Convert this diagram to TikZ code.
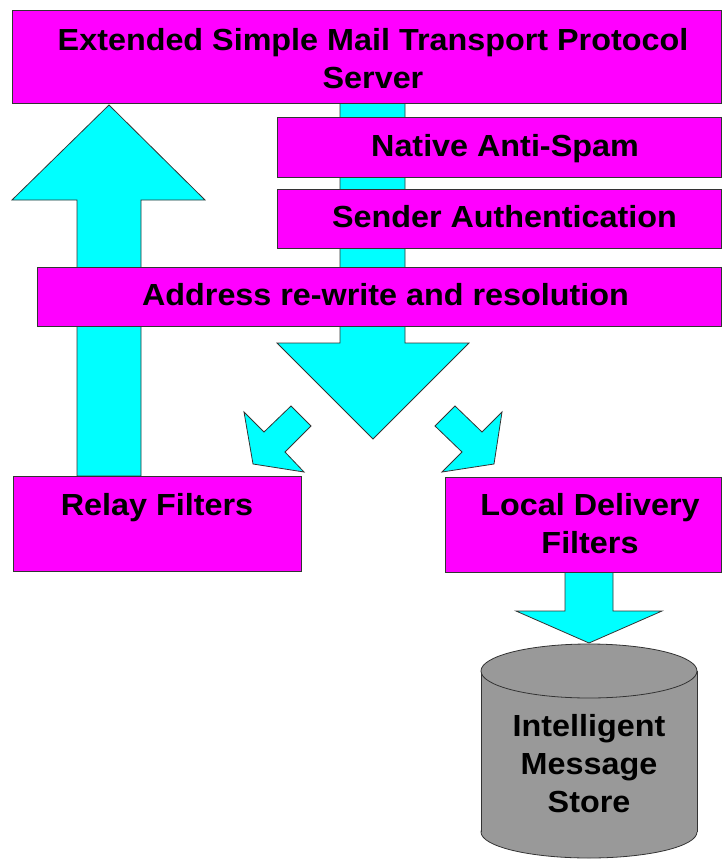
\documentclass[tikz,border=0pt]{standalone}
\usepackage{fontspec}
\setmainfont{Liberation Sans}[FakeStretch=1.06]
\definecolor{storegray}{RGB}{153,153,153}
\definecolor{panelmagenta}{RGB}{255,0,255}
\definecolor{flowcyan}{RGB}{0,255,255}
\begin{document}
\begin{tikzpicture}[x=1pt,y=-1pt,
  outline/.style={draw=black!80, line width=0.8pt},
  panel/.style={outline, fill=panelmagenta, rectangle, inner sep=0pt, anchor=north west},
  flow/.style={outline, fill=flowcyan},
  caption/.style={font=\fontsize{30.5}{38}\selectfont\bfseries, align=center, anchor=north, inner sep=0pt},
]
\useasboundingbox (0,0) rectangle (722,859);

% block arrows running behind the panels
\draw[flow] (340,103) -- (405,103) -- (405,343) -- (469,343) -- (373,439)
  -- (277,343) -- (340,343) -- cycle;
\draw[flow] (77,476) -- (141,476) -- (141,200) -- (205,200) -- (109,105)
  -- (12,200) -- (77,200) -- cycle;
\draw[flow] (244,412) -- (264,432) -- (291,406) -- (311,426) -- (285,452)
  -- (304,472) -- (253,464) -- cycle;
\draw[flow] (435,426) -- (455,406) -- (482,432) -- (502,412) -- (494,464)
  -- (442,472) -- (462,452) -- cycle;
\draw[flow] (565,571) -- (613,571) -- (613,611) -- (662,611) -- (589,643)
  -- (516,611) -- (565,611) -- cycle;

% panels
\node[panel, minimum width=709pt, minimum height=93pt] (esmtp) at (12,10) {};
\node[panel, minimum width=444pt, minimum height=60pt] (antispam) at (277,117) {};
\node[panel, minimum width=444pt, minimum height=59pt] (sender) at (277,189) {};
\node[panel, minimum width=684pt, minimum height=59pt] (addr) at (37,267) {};
\node[panel, minimum width=288pt, minimum height=95pt] (relay) at (13,476) {};
\node[panel, minimum width=276pt, minimum height=95pt] (local) at (445,477) {};

\node[caption] (esmtptext) at (373,28) {Extended Simple Mail Transport Protocol\\Server};
\node[caption] (antispamtext) at (505,134) {Native Anti-Spam};
\node[caption] (sendertext) at (504.5,205.5) {Sender Authentication};
\node[caption] (addrtext) at (385.5,283) {Address re-write and resolution};
\node[caption] (relaytext) at (157,493) {Relay Filters};
\node[caption] (localtext) at (590,493) {Local Delivery\\Filters};

% message store cylinder
\draw[outline, fill=storegray] (589,832) ellipse [x radius=108pt, y radius=26pt];
\fill[storegray] (481,671) rectangle (697,832);
\draw[outline] (481,671) -- (481,832) (697,671) -- (697,832);
\draw[outline, fill=storegray] (589,671) ellipse [x radius=108pt, y radius=27pt];
\coordinate (store) at (589,751);
\node[caption] (storetext) at (589,714) {Intelligent\\Message\\Store};
\end{tikzpicture}
\end{document}
